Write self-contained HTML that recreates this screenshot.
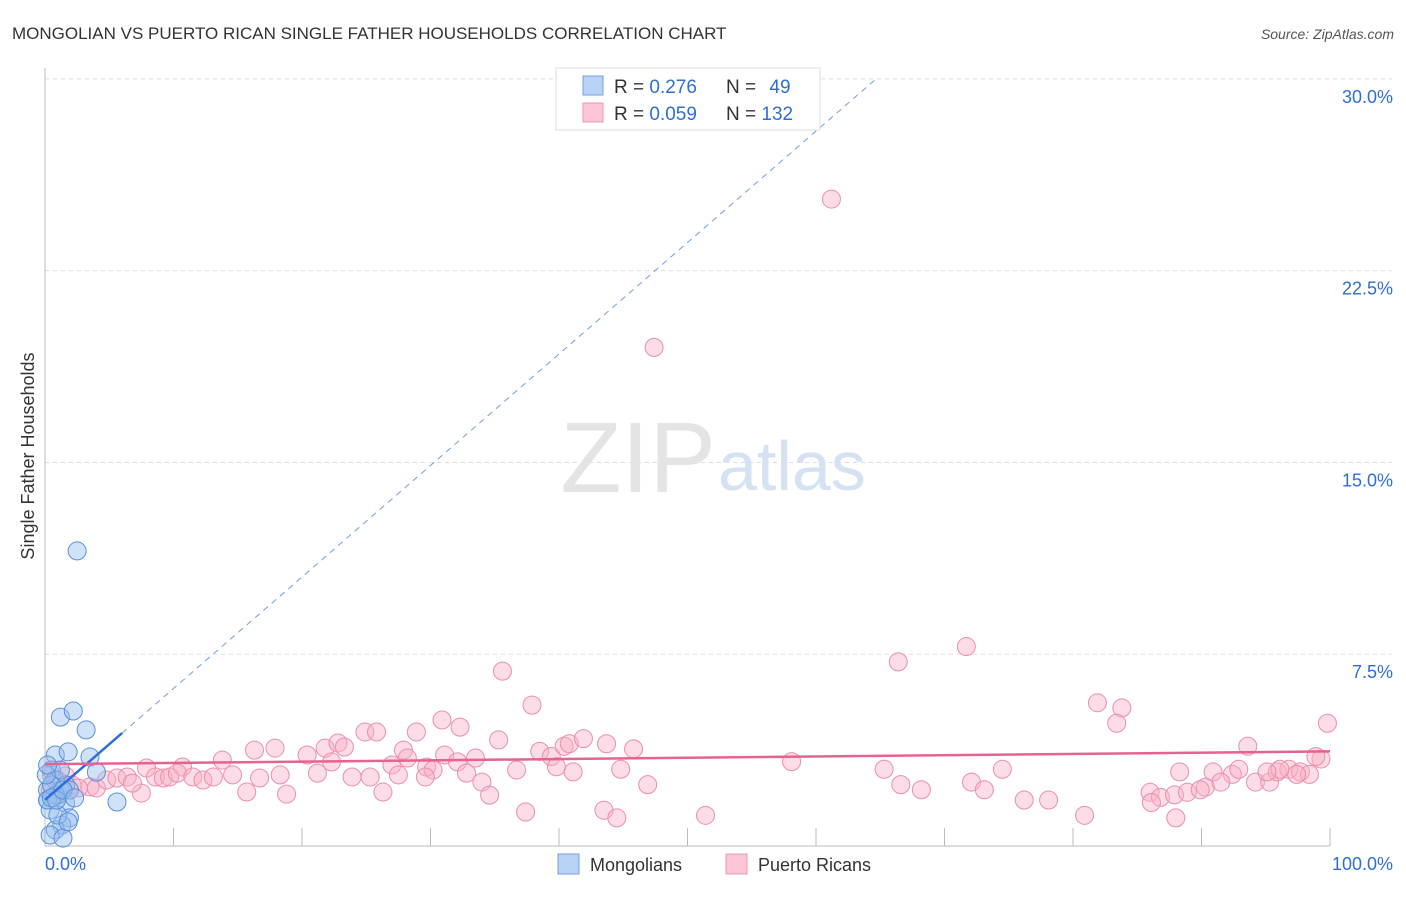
<!DOCTYPE html>
<html><head><meta charset="utf-8"><style>
body{margin:0;background:#fff;font-family:"Liberation Sans",sans-serif;}
svg text{font-family:"Liberation Sans",sans-serif;}
</style></head><body>
<svg id="chart" width="1406" height="892" viewBox="0 0 1406 892">
<text x="12" y="39" font-size="17" fill="#333">MONGOLIAN VS PUERTO RICAN SINGLE FATHER HOUSEHOLDS CORRELATION CHART</text>
<text x="1394" y="39" font-size="14" fill="#555" font-style="italic" text-anchor="end">Source: ZipAtlas.com</text>
<text x="34" y="456" font-size="18" fill="#333" text-anchor="middle" transform="rotate(-90 34 456)">Single Father Households</text>
<g id="grid"></g>
<g id="axes"></g>
<text x="716" y="492" font-size="100" fill="#e4e4e4" text-anchor="end" font-family="Liberation Serif">ZIP</text>
<text x="718" y="490" font-size="70" fill="#d5e2f3">atlas</text>
<g id="pts"></g>
<g id="lines"></g>
<g>
<rect x="556" y="68" width="264" height="62" fill="#fff" stroke="#ddd"/>
<rect x="583" y="76" width="20" height="19" fill="#b8d3f5" stroke="#6f9fe0"/>
<rect x="583" y="103" width="20" height="19" fill="#fac6d5" stroke="#ec97b1"/>
<text x="614" y="93" font-size="19" fill="#333">R = <tspan fill="#2d6fd6">0.276</tspan></text>
<text x="726" y="93" font-size="19" fill="#333">N = <tspan fill="#2d6fd6" dx="8">49</tspan></text>
<text x="614" y="120" font-size="19" fill="#333">R = <tspan fill="#2d6fd6">0.059</tspan></text>
<text x="726" y="120" font-size="19" fill="#333">N = <tspan fill="#2d6fd6">132</tspan></text>
</g>
<g>
<rect x="558" y="854" width="21" height="20" fill="#b8d3f5" stroke="#6f9fe0"/>
<text x="590" y="871" font-size="18" fill="#333">Mongolians</text>
<rect x="726" y="854" width="21" height="20" fill="#fac6d5" stroke="#ec97b1"/>
<text x="758" y="871" font-size="18" fill="#333">Puerto Ricans</text>
</g>
</svg>
<script>
const yTicks=[7.5,15,22.5,30];
const yTickLabels=["7.5%","15.0%","22.5%","30.0%"];
const xTickLabels=["0.0%","100.0%"];
const mongX=[2.5,1.2,2.2,3.2,0.8,1.8,3.5,4.0,5.6,0.2,0.5,1.2,1.6,1.9,1.3,0.8,0.4,1.4,0.8,0.2,1.0,1.6,1.9,0.4,1.0,1.8,0.8,0.2,0.5,1.2,0.5,0.1,0.9,1.4,2.3,0.2];
const mongY=[11.54,5.04,5.28,4.54,3.56,3.68,3.48,2.89,1.72,1.8,2.97,2.19,1.68,1.1,0.82,0.63,0.43,0.31,2.58,2.19,1.99,2.39,2.19,1.41,1.21,0.94,1.99,1.8,2.39,2.97,1.88,2.78,1.8,2.19,1.88,3.17];
const prX=[7.5,10.7,13.8,15.7,16.3,17.9,18.8,18.3,16.7,20.4,21.2,21.8,22.8,23.3,22.3,23.9,24.9,25.8,26.3,25.3,27.0,27.5,27.9,28.2,28.9,29.7,30.2,29.6,30.9,31.1,32.1,32.3,32.8,33.5,34.0,34.6,35.3,36.7,37.4,37.9,35.6,3.5,4.0,4.8,5.6,6.4,6.8,7.9,8.6,9.2,9.7,10.3,11.5,12.3,13.1,14.6,0.5,1.0,1.6,2.1,1.2,2.6,0.4,
38.5,39.4,40.4,40.8,41.9,43.7,45.8,39.8,41.1,44.8,46.9,43.5,44.5,51.4,61.2,47.4,66.4,71.7,81.9,83.8,83.4,99.8,58.1,65.3,66.6,68.2,72.1,73.1,74.5,76.2,78.1,80.9,88.0,86.0,86.8,86.1,87.9,88.9,90.3,90.9,92.4,93.6,92.9,91.5,94.2,95.3,95.9,96.8,97.7,98.4,99.3,98.9,97.4,96.1,95.1,88.3,89.9];
const prY=[2.07,3.09,3.36,2.11,3.75,3.83,2.03,2.78,2.66,3.56,2.85,3.83,4.03,3.87,3.29,2.70,4.46,4.46,2.11,2.70,3.17,2.78,3.75,3.44,4.46,3.09,2.97,2.70,4.93,3.56,3.29,4.65,2.85,3.44,2.50,1.99,4.15,2.97,1.33,5.51,6.84,2.31,2.27,2.58,2.66,2.70,2.46,3.05,2.70,2.66,2.70,2.85,2.70,2.58,2.70,2.78,2.78,2.58,2.74,2.39,2.19,2.27,2.19,
3.7,3.5,3.9,4.0,4.2,4.0,3.8,3.1,2.9,3.0,2.4,1.4,1.1,1.2,25.3,19.5,7.2,7.8,5.6,5.4,4.8,4.8,3.3,3.0,2.4,2.2,2.5,2.2,3.0,1.8,1.8,1.2,1.1,2.1,1.9,1.7,2.0,2.1,2.3,2.9,2.8,3.9,3.0,2.5,2.5,2.5,2.9,3.0,2.9,2.8,3.4,3.5,2.8,3.0,2.9,2.9,2.2];
const mongTrend=[1.8,0.436];
const prTrend=[3.2,0.005];
const NS='http://www.w3.org/2000/svg';
const X=v=>45+v*12.85, Y=v=>846-v*25.57;
function mk(p,t,a){const e=document.createElementNS(NS,t);for(const k in a)e.setAttribute(k,a[k]);p.appendChild(e);return e;}
const grid=document.getElementById('grid'),axes=document.getElementById('axes');
yTicks.forEach((t,i)=>{
 const g=mk(grid,'line',{x1:45,x2:1392,y1:Y(t),y2:Y(t),stroke:'#ddd','stroke-dasharray':'4,4'});
 
 
 const l=mk(axes,'text',{x:1393,y:Y(t)+24,'font-size':18,fill:'#2d6fd6','text-anchor':'end'});
 l.textContent=yTickLabels[i];
 
 
});
mk(axes,'line',{x1:45,x2:45,y1:68,y2:846,stroke:'#bbb'});
mk(axes,'line',{x1:45,x2:1330,y1:846,y2:846,stroke:'#bbb'});
for(let i=0;i<=10;i++){const t=mk(axes,'line',{x1:X(i*10),x2:X(i*10),y1:828,y2:846,stroke:'#bbb'});
 
 }
[0,100].forEach((v,i)=>{const l=mk(axes,'text',{x:i?1393:45,y:870,'font-size':18,fill:'#2d6fd6','text-anchor':i?'end':'start'});
 l.textContent=xTickLabels[i];
 
 });
const pts=document.getElementById('pts');
prX.forEach((x,i)=>{const c=mk(pts,'circle',{cx:X(x),cy:Y(prY[i]),r:9,fill:'rgba(248,178,200,0.45)',stroke:'#ea8fab','stroke-width':1});
 
 });
mongX.forEach((x,i)=>{const c=mk(pts,'circle',{cx:X(x),cy:Y(mongY[i]),r:9,fill:'rgba(150,190,240,0.45)',stroke:'#5b8fd8','stroke-width':1});
 
 });
const lines=document.getElementById('lines');
const xEnd=(30-mongTrend[0])/mongTrend[1];
const d=mk(lines,'line',{x1:X(6),y1:Y(mongTrend[0]+mongTrend[1]*6),x2:X(xEnd),y2:Y(30),stroke:'#6f9fe0','stroke-width':1,'stroke-dasharray':'6,5'});


const s=mk(lines,'line',{x1:X(0),y1:Y(mongTrend[0]),x2:X(6),y2:Y(mongTrend[0]+mongTrend[1]*6),stroke:'#2d6fd6','stroke-width':2.5});


const p=mk(lines,'line',{x1:X(0),y1:Y(prTrend[0]),x2:X(100),y2:Y(prTrend[0]+prTrend[1]*100),stroke:'#e6628f','stroke-width':2.5});


</script>
</body></html>
